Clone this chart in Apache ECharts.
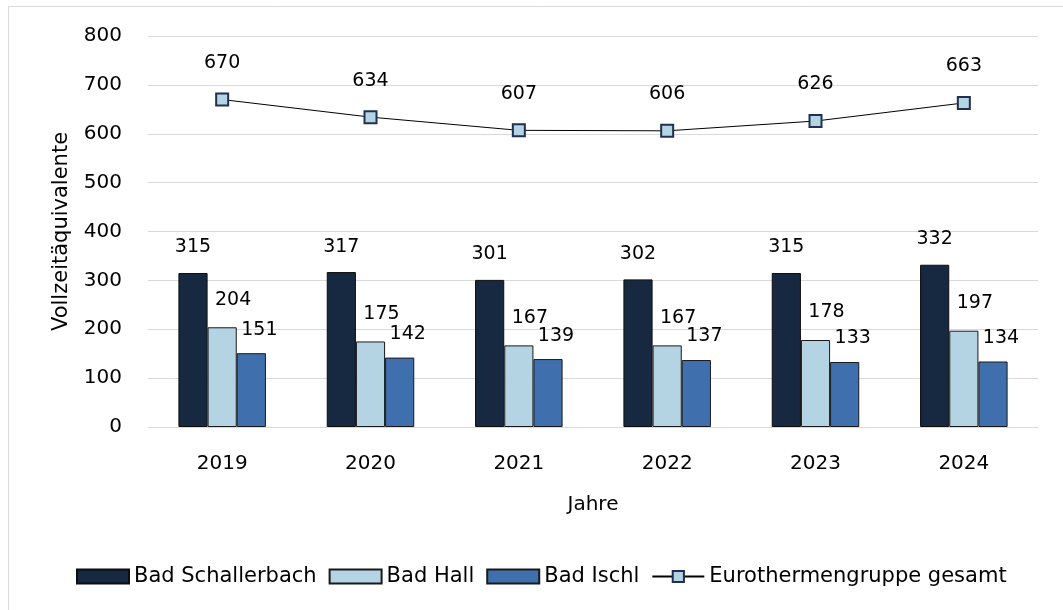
<!DOCTYPE html>
<html><head><meta charset="utf-8">
<script src="https://cdn.jsdelivr.net/npm/echarts@6/dist/echarts.min.js"></script>
<style>html,body{margin:0;padding:0;background:#fff}#c{width:1063px;height:610px}</style>
</head><body><div id="c"></div>
<script>
const years = ['2019','2020','2021','2022','2023','2024'];
const badSchallerbach = [315,317,301,302,315,332];
const badHall = [204,175,167,167,178,197];
const badIschl = [151,142,139,137,133,134];
const gesamt = [670,634,607,606,626,663];
const yTicks = {min:0,max:800,interval:100};

const FONT = 'DejaVu Sans';
const FS = 19;
const chart = echarts.init(document.getElementById('c'));
const lbl = (dx,dy)=>({show:true,position:'top',offset:[dx,dy],color:'#000',fontFamily:FONT,fontSize:FS});
chart.setOption({
  animation:false,
  textStyle:{fontFamily:FONT},
  graphic:[{type:'rect',shape:{x:8.5,y:6.5,width:1060,height:610},style:{fill:'none',stroke:'#d9d9d9',lineWidth:1},silent:true,z:-1}],
  grid:{left:148,right:25,top:36,bottom:183},
  legend:{bottom:18,left:71,itemWidth:52,itemHeight:14,itemGap:12,
    textStyle:{fontFamily:FONT,fontSize:21,color:'#000'},
    data:[{name:'Bad Schallerbach',icon:'rect'},{name:'Bad Hall',icon:'rect'},{name:'Bad Ischl',icon:'rect'},{name:'Eurothermengruppe gesamt'}]},
  xAxis:{type:'category',data:years,name:'Jahre',nameLocation:'middle',nameGap:68,
    nameTextStyle:{fontFamily:FONT,fontSize:20,color:'#000'},
    axisLine:{lineStyle:{color:'#d9d9d9'}},axisTick:{show:false},
    axisLabel:{fontFamily:FONT,fontSize:20,color:'#000',margin:27}},
  yAxis:{type:'value',min:yTicks.min,max:yTicks.max,interval:yTicks.interval,
    name:'Vollzeitäquivalente',nameLocation:'middle',nameGap:76,
    nameTextStyle:{fontFamily:FONT,fontSize:21,color:'#000'},
    axisLine:{show:false},axisTick:{show:false},
    splitLine:{lineStyle:{color:'#d9d9d9'}},
    axisLabel:{fontFamily:FONT,fontSize:20,color:'#000',margin:26}},
  series:[
    {name:'Bad Schallerbach',type:'bar',data:badSchallerbach,barGap:'0%',barCategoryGap:'41%',
      itemStyle:{color:'#172940',borderColor:'#0d0d0d',borderWidth:1},label:lbl(0,-11)},
    {name:'Bad Hall',type:'bar',data:badHall,barGap:'0%',barCategoryGap:'41%',
      itemStyle:{color:'#b4d3e3',borderColor:'#1a1a1a',borderWidth:1},label:lbl(11,-13)},
    {name:'Bad Ischl',type:'bar',data:badIschl,barGap:'0%',barCategoryGap:'41%',
      itemStyle:{color:'#3f70ad',borderColor:'#1a1a1a',borderWidth:1},label:lbl(8,-9)},
    {name:'Eurothermengruppe gesamt',type:'line',data:gesamt,symbol:'rect',symbolSize:12,
      lineStyle:{color:'#000',width:1},
      itemStyle:{color:'#b4d3e3',borderColor:'#1f3050',borderWidth:2},
      label:lbl(0,-15)}
  ]
});
</script></body></html>
